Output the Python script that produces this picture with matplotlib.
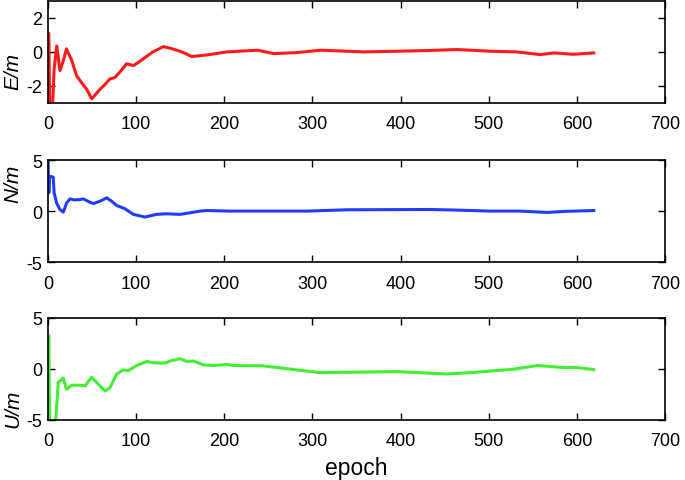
import numpy as np
import matplotlib.pyplot as plt

plt.rcParams['font.family'] = ['Liberation Sans', 'DejaVu Sans']
plt.rcParams['axes.unicode_minus'] = False

# epoch / value pairs
e_epoch = [0, 1, 2, 3, 5, 7, 10, 13.6, 17, 21, 27, 32.5, 38, 44, 49.6, 54, 59, 65, 70, 76, 83,
           89, 97, 103, 108, 119, 131, 140, 152, 163, 180, 203, 220, 238, 256, 282, 309,
           330, 358, 396, 430, 464, 502, 532, 558, 574, 596, 619]
e_vals = [1.1, 1.1, -3.5, -3.5, -3.5, -1.0, 0.35, -1.1, -0.6, 0.18, -0.5, -1.4, -1.8, -2.2, -2.76,
          -2.5, -2.2, -1.9, -1.6, -1.5, -1.1, -0.7, -0.8, -0.6, -0.41, 0.0, 0.31, 0.2, 0.0, -0.27,
          -0.18, 0.0, 0.05, 0.1, -0.1, -0.04, 0.1, 0.06, 0.0, 0.04, 0.08, 0.14, 0.04, 0.0, -0.16,
          -0.06, -0.14, -0.06]

n_epoch = [0, 1, 2, 4.2, 6, 7, 9.8, 13.6, 17.4, 21.2, 25, 30, 36, 40, 47.7, 51.5, 59, 66.6, 72.3,
           78, 87.4, 96.8, 110, 123, 134.5, 149.8, 172.5, 180, 206.6, 293.6, 339, 433.6, 464,
           502, 536, 566, 585, 619]
n_vals = [5.0, 1.8, 3.4, 3.4, 3.3, 1.8, 0.8, 0.16, -0.1, 0.8, 1.2, 1.1, 1.13, 1.2, 0.87, 0.74,
          0.97, 1.3, 0.97, 0.55, 0.23, -0.32, -0.58, -0.32, -0.26, -0.32, 0.0, 0.06, 0.0, 0.0,
          0.13, 0.16, 0.1, 0.0, 0.0, -0.13, -0.03, 0.06]

u_epoch = [0, 1, 2, 5, 8, 11.7, 17.4, 21, 27, 36, 42, 49.6, 57, 64.7, 70.4, 78, 85.5, 91, 100.7,
           112, 119.5, 132.8, 138.5, 149.8, 157.4, 165, 176, 187.6, 203, 210.7, 244, 282,
           308.7, 339, 396, 452.5, 479, 528, 554.7, 570, 585, 600, 619]
u_vals = [3.3, 3.3, -6.0, -6.0, -6.0, -1.33, -0.9, -2.0, -1.6, -1.6, -1.67, -0.83, -1.5, -2.17,
          -1.83, -0.5, -0.1, -0.17, 0.33, 0.73, 0.6, 0.57, 0.77, 1.0, 0.73, 0.77, 0.4, 0.33,
          0.43, 0.33, 0.3, -0.1, -0.37, -0.33, -0.27, -0.5, -0.37, -0.03, 0.33, 0.23, 0.13,
          0.13, -0.07]

panels = [
    (e_epoch, e_vals, '#ff1a1a', 'E/m', (-3, 3), [-2, 0, 2], 0.32),
    (n_epoch, n_vals, '#1f3cff', 'N/m', (-5, 5), [-5, 0, 5], 0.78),
    (u_epoch, u_vals, '#44ee33', 'U/m', (-5, 5), [-5, 0, 5], 0.12),
]
bottoms = [0.784, 0.453, 0.125]

fig = plt.figure(figsize=(6.85, 4.81), dpi=100)

for (x, y, color, label, ylim, yticks, label_y), b in zip(panels, bottoms):
    ax = fig.add_axes([0.070, b, 0.901, 0.212])
    ax.plot(x, y, color=color, lw=2.2)
    ax.set_xlim(0, 700)
    ax.set_ylim(*ylim)
    ax.set_xticks(np.arange(0, 701, 100))
    ax.set_yticks(yticks)
    ax.tick_params(direction='in', top=True, right=True, labelsize=13, length=5, width=1, pad=9)
    ax.tick_params(axis='y', pad=4)
    ax.set_ylabel(label, fontsize=15, style='italic', labelpad=0)
    ax.yaxis.set_label_coords(-0.041, label_y)
    for s in ax.spines.values():
        s.set_linewidth(1.2)

ax.set_xlabel('epoch', fontsize=16.5, labelpad=5)

fig.savefig('out.png', dpi=100)
